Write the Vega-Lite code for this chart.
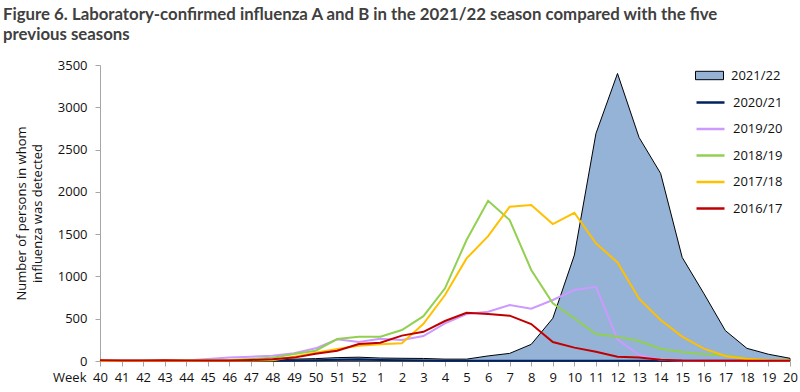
{
  "$schema": "https://vega.github.io/schema/vega-lite/v6.json",
  "width": 690,
  "height": 296,
  "autosize": {"type": "none"},
  "padding": {"left": 100, "top": 65, "right": 10, "bottom": 31},
  "background": "white",
  "config": {
    "font": "Open Sans",
    "view": {"stroke": null},
    "axis": {"grid": false, "domainColor": "#A6A6A6", "tickColor": "#A6A6A6", "tickSize": 5, "labelFont": "Open Sans", "labelFontSize": 13, "labelColor": "#111111", "titleFont": "Open Sans", "titleFontSize": 13, "titleFontWeight": "normal", "titleColor": "#111111"},
    "legend": {"labelFont": "Open Sans"}
  },
  "title": {
    "text": ["Figure 6. Laboratory-confirmed influenza A and B in the 2021/22 season compared with the five", "previous seasons"],
    "anchor": "start",
    "frame": "group",
    "dx": -97,
    "offset": 15,
    "font": "Lato",
    "fontSize": 16.8,
    "fontWeight": "bold",
    "color": "#404040",
    "lineHeight": 20
  },
  "data": {
    "values": [
      {"week": "40", "2021/22": 2, "2020/21": 3, "2019/20": 2, "2018/19": 2, "2017/18": 1, "2016/17": 10},
      {"week": "41", "2021/22": 2, "2020/21": 2, "2019/20": 3, "2018/19": 2, "2017/18": 1, "2016/17": 6},
      {"week": "42", "2021/22": 2, "2020/21": 2, "2019/20": 3, "2018/19": 3, "2017/18": 1, "2016/17": 5},
      {"week": "43", "2021/22": 3, "2020/21": 2, "2019/20": 4, "2018/19": 3, "2017/18": 2, "2016/17": 8},
      {"week": "44", "2021/22": 3, "2020/21": 2, "2019/20": 6, "2018/19": 4, "2017/18": 3, "2016/17": 5},
      {"week": "45", "2021/22": 4, "2020/21": 2, "2019/20": 24, "2018/19": 8, "2017/18": 3, "2016/17": 5},
      {"week": "46", "2021/22": 5, "2020/21": 3, "2019/20": 40, "2018/19": 12, "2017/18": 4, "2016/17": 6},
      {"week": "47", "2021/22": 8, "2020/21": 3, "2019/20": 51, "2018/19": 24, "2017/18": 5, "2016/17": 12},
      {"week": "48", "2021/22": 15, "2020/21": 4, "2019/20": 63, "2018/19": 39, "2017/18": 8, "2016/17": 20},
      {"week": "49", "2021/22": 22, "2020/21": 5, "2019/20": 91, "2018/19": 83, "2017/18": 51, "2016/17": 40},
      {"week": "50", "2021/22": 28, "2020/21": 8, "2019/20": 150, "2018/19": 122, "2017/18": 98, "2016/17": 87},
      {"week": "51", "2021/22": 40, "2020/21": 15, "2019/20": 256, "2018/19": 260, "2017/18": 142, "2016/17": 122},
      {"week": "52", "2021/22": 45, "2020/21": 20, "2019/20": 225, "2018/19": 288, "2017/18": 181, "2016/17": 201},
      {"week": "1", "2021/22": 35, "2020/21": 12, "2019/20": 264, "2018/19": 288, "2017/18": 197, "2016/17": 217},
      {"week": "2", "2021/22": 32, "2020/21": 8, "2019/20": 248, "2018/19": 366, "2017/18": 209, "2016/17": 300},
      {"week": "3", "2021/22": 30, "2020/21": 5, "2019/20": 295, "2018/19": 530, "2017/18": 440, "2016/17": 345},
      {"week": "4", "2021/22": 22, "2020/21": 4, "2019/20": 445, "2018/19": 859, "2017/18": 780, "2016/17": 473},
      {"week": "5", "2021/22": 22, "2020/21": 3, "2019/20": 555, "2018/19": 1430, "2017/18": 1213, "2016/17": 571},
      {"week": "6", "2021/22": 60, "2020/21": 3, "2019/20": 583, "2018/19": 1895, "2017/18": 1477, "2016/17": 555},
      {"week": "7", "2021/22": 90, "2020/21": 2, "2019/20": 662, "2018/19": 1667, "2017/18": 1824, "2016/17": 536},
      {"week": "8", "2021/22": 197, "2020/21": 2, "2019/20": 618, "2018/19": 1076, "2017/18": 1844, "2016/17": 437},
      {"week": "9", "2021/22": 505, "2020/21": 2, "2019/20": 721, "2018/19": 682, "2017/18": 1619, "2016/17": 225},
      {"week": "10", "2021/22": 1253, "2020/21": 2, "2019/20": 839, "2018/19": 505, "2017/18": 1753, "2016/17": 158},
      {"week": "11", "2021/22": 2690, "2020/21": 2, "2019/20": 878, "2018/19": 319, "2017/18": 1391, "2016/17": 110},
      {"week": "12", "2021/22": 3400, "2020/21": 2, "2019/20": 256, "2018/19": 288, "2017/18": 1166, "2016/17": 51},
      {"week": "13", "2021/22": 2643, "2020/21": 2, "2019/20": 71, "2018/19": 236, "2017/18": 737, "2016/17": 40},
      {"week": "14", "2021/22": 2218, "2020/21": 2, "2019/20": 15, "2018/19": 146, "2017/18": 485, "2016/17": 15},
      {"week": "15", "2021/22": 1225, "2020/21": 2, "2019/20": 5, "2018/19": 106, "2017/18": 288, "2016/17": 5},
      {"week": "16", "2021/22": 800, "2020/21": 2, "2019/20": 3, "2018/19": 79, "2017/18": 146, "2016/17": 3},
      {"week": "17", "2021/22": 360, "2020/21": 2, "2019/20": 2, "2018/19": 67, "2017/18": 59, "2016/17": 2},
      {"week": "18", "2021/22": 150, "2020/21": 2, "2019/20": 2, "2018/19": 30, "2017/18": 25, "2016/17": 2},
      {"week": "19", "2021/22": 80, "2020/21": 2, "2019/20": 2, "2018/19": 10, "2017/18": 10, "2016/17": 2},
      {"week": "20", "2021/22": 32, "2020/21": 2, "2019/20": 2, "2018/19": 5, "2017/18": 5, "2016/17": 2}
    ]
  },
  "encoding": {
    "x": {
      "field": "week",
      "type": "ordinal",
      "sort": null,
      "scale": {"type": "point", "padding": 0, "domain": ["40","41","42","43","44","45","46","47","48","49","50","51","52","1","2","3","4","5","6","7","8","9","10","11","12","13","14","15","16","17","18","19","20"]},
      "axis": {"title": "Week", "labelAngle": 0, "labelPadding": 5, "titleAngle": 0, "titleX": -14, "titleY": 10, "titleAlign": "right", "titleBaseline": "top"}
    }
  },
  "layer": [
    {
      "transform": [{"fold": ["2021/22"], "as": ["season", "value"]}],
      "mark": {"type": "area", "stroke": "black", "strokeWidth": 1},
      "encoding": {
        "y": {
          "field": "value",
          "type": "quantitative",
          "scale": {"domain": [0, 3500], "nice": false},
          "axis": {"values": [0,500,1000,1500,2000,2500,3000,3500], "format": "d", "labelPadding": 8, "title": ["Number of persons in whom", "influenza was detected"], "titleX": -85, "titleY": 148, "titleAlign": "center", "titleBaseline": "top", "titleLineHeight": 16}
        },
        "fill": {
          "field": "season",
          "type": "nominal",
          "scale": {"domain": ["2021/22"], "range": ["#95B3D7"]},
          "legend": {"title": null, "orient": "none", "legendX": 595, "legendY": -4, "padding": 0, "symbolType": "M-1,-0.3H1V0.3H-1Z", "symbolSize": 784, "symbolStrokeColor": "black", "symbolStrokeWidth": 1, "symbolOpacity": 1, "labelFontSize": 13, "labelColor": "#111111", "labelOffset": 7}
        },
        "order": {"value": null}
      }
    },
    {
      "transform": [{"fold": ["2020/21", "2019/20", "2018/19", "2017/18", "2016/17"], "as": ["season", "value"]}],
      "mark": {"type": "line", "strokeWidth": 2},
      "encoding": {
        "y": {"field": "value", "type": "quantitative"},
        "stroke": {
          "field": "season",
          "type": "nominal",
          "scale": {"domain": ["2020/21", "2019/20", "2018/19", "2017/18", "2016/17"], "range": ["#002060", "#CC99FF", "#92D050", "#FFC000", "#C00000"]},
          "legend": {"title": null, "orient": "none", "legendX": 595, "legendY": 22, "padding": 0, "symbolType": "stroke", "symbolSize": 784, "symbolStrokeWidth": 2.5, "labelFontSize": 13, "labelColor": "#111111", "labelOffset": 7, "rowPadding": 3.5}
        },
        "order": {"value": null}
      }
    }
  ]
}
